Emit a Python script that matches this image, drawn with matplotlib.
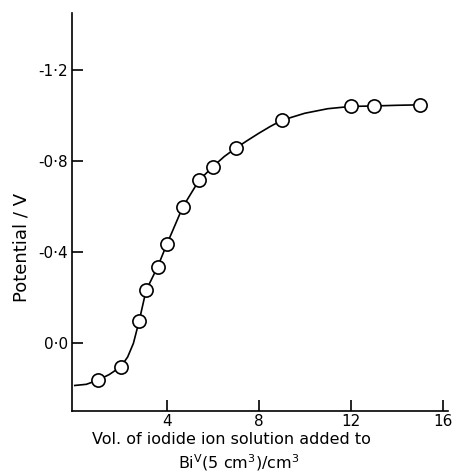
import matplotlib
matplotlib.use('Agg')
import matplotlib.pyplot as plt

# measured points (volume / cm3, potential / V)
vol = [1.0, 2.0, 2.8, 3.1, 3.6, 4.0, 4.7, 5.4, 6.0, 7.0, 9.0, 12.0, 13.0, 15.0]
pot = [0.162, 0.103, -0.098, -0.232, -0.335, -0.434, -0.599, -0.715, -0.775,
       -0.857, -0.979, -1.040, -1.042, -1.047]

# hand-drawn smooth curve
curve_x = [0.0, 0.5, 1.0, 1.5, 2.0, 2.3, 2.55, 2.8, 3.1, 3.6, 4.0, 4.7, 5.4,
           6.0, 6.5, 7.0, 7.5, 8.0, 8.5, 9.0, 10.0, 11.0, 12.0, 13.0, 14.0, 15.0]
curve_y = [0.185, 0.18, 0.162, 0.137, 0.103, 0.06, 0.0, -0.098, -0.232, -0.335,
           -0.434, -0.599, -0.715, -0.775, -0.82, -0.857, -0.89, -0.922,
           -0.952, -0.979, -1.01, -1.03, -1.040, -1.042, -1.045, -1.047]

xticks = [4, 8, 12, 16]
yticks = [0.0, -0.4, -0.8, -1.2]
ytick_labels = ['0\u00b70', '-0\u00b74', '-0\u00b78', '-1\u00b72']

fig = plt.figure(figsize=(4.58, 4.76), dpi=100)
ax = fig.add_axes([0.1572, 0.1366, 0.821, 0.836])

ax.plot(curve_x, curve_y, color='black', lw=1.2, zorder=2)
ax.plot(vol, pot, 'o', ms=9.5, mfc='white', mec='black', mew=1.2, zorder=3)

ax.set_xlim(-0.12, 16.23)
ax.set_ylim(0.297, -1.45)
ax.set_xticks(xticks)
ax.set_xticklabels([str(t) for t in xticks])
ax.set_yticks(yticks)
ax.set_yticklabels(ytick_labels)

for s in ['top', 'right']:
    ax.spines[s].set_visible(False)
for s in ['left', 'bottom']:
    ax.spines[s].set_linewidth(1.2)
ax.tick_params(direction='in', length=8, width=1.2, labelsize=11, pad=3)
ax.tick_params(axis='x', pad=2)

fig.text(0.047, 0.481, 'Potential / V', rotation=90, ha='center', va='center',
         fontsize=13)
fig.text(0.505, 0.076, 'Vol. of iodide ion solution added to', ha='center',
         va='center', fontsize=11.5)
fig.text(0.522, 0.029, r'Bi$^{\mathrm{V}}$(5 cm$^3$)/cm$^3$', ha='center',
         va='center', fontsize=11.5)

plt.savefig('out.png', dpi=100)
